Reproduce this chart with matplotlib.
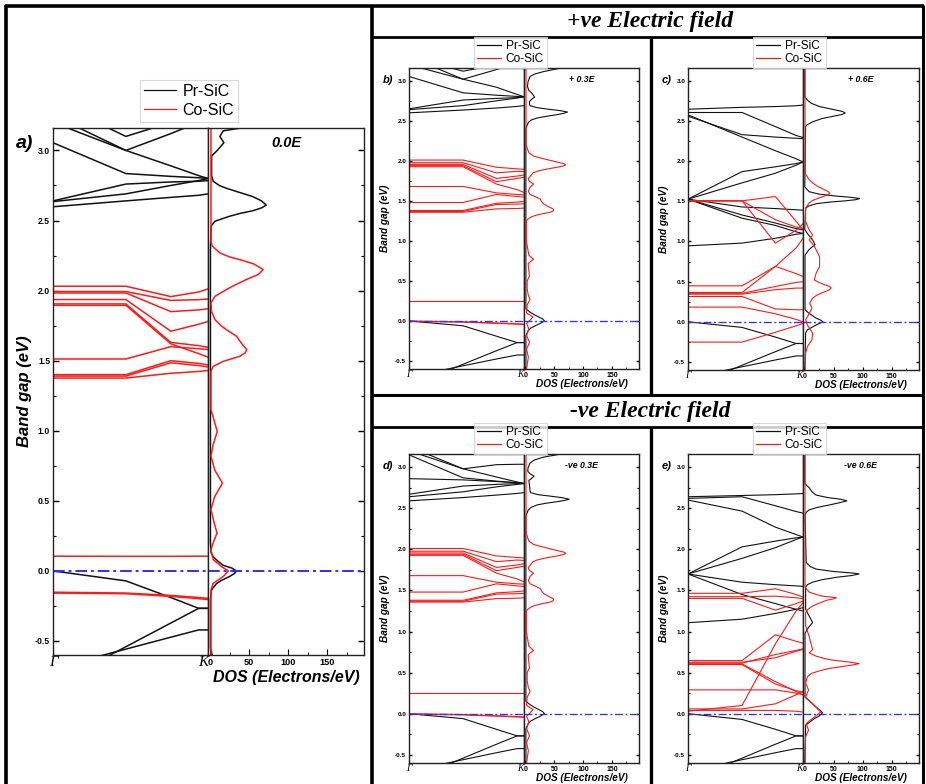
import matplotlib
matplotlib.use('Agg')
import matplotlib.pyplot as plt
from matplotlib.lines import Line2D
from matplotlib.ticker import MultipleLocator, FixedLocator

W, H = 926, 784
plt.rcParams['font.family'] = ['Liberation Sans', 'DejaVu Sans']

BLUE = '#2f2fff'
RED = '#ff1a1a'
BLACK = '#111111'

# k-path nodes (Gamma -> K) shared by every band structure
K_NODES = [0.0, 0.47, 0.76, 0.94, 1.0]
E_LIM = (-0.6, 3.16)
DOS_LIM = (-2.5, 197)

# ---------------- panel a) 0.0E ----------------
A_BLACK = [
    [3.25, 3.00, 2.89, 2.82, 2.80],
    [3.055, 2.835, 2.815, 2.805, 2.80],
    [3.35, 3.10, 3.20, 3.30, 3.35],
    [3.20, 3.00, 3.12, 3.20, 3.25],
    [2.64, 2.76, 2.775, 2.78, 2.785],
    [2.635, 2.69, 2.75, 2.785, 2.80],
    [2.598, 2.64, 2.665, 2.68, 2.69],
    [0.0, -0.071, -0.19, -0.267, -0.267],
    [-0.815, -0.541, -0.372, -0.267, -0.267],
    [-0.695, -0.558, -0.473, -0.421, -0.421],
]
A_RED = [
    [2.031, 2.031, 1.957, 1.99, 2.012],
    [1.993, 1.993, 1.93, 1.935, 1.94],
    [1.983, 1.983, 1.85, 1.862, 1.87],
    [1.936, 1.936, 1.71, 1.76, 1.78],
    [1.905, 1.905, 1.63, 1.607, 1.595],
    [1.895, 1.895, 1.62, 1.55, 1.525],
    [1.512, 1.512, 1.60, 1.585, 1.58],
    [1.40, 1.40, 1.50, 1.48, 1.47],
    [1.39, 1.39, 1.485, 1.465, 1.455],
    [1.376, 1.376, 1.41, 1.423, 1.43],
    [0.105, 0.104, 0.104, 0.105, 0.105],
    [-0.152, -0.158, -0.175, -0.19, -0.195],
    [-0.158, -0.163, -0.182, -0.198, -0.205],
]
A_DOS_BLACK_E = [3.166, 3.14, 3.10, 3.055, 2.995, 2.96, 2.82, 2.78, 2.75, 2.73, 2.70, 2.67,
                 2.64, 2.61, 2.59, 2.57, 2.55, 2.53, 2.495, 2.46, 2.30, 0.20, 0.13, 0.10,
                 0.07, 0.04, 0.02, 0.0, -0.02, -0.04, -0.07, -0.09, -0.136, -0.2, -0.55, -0.6]
A_DOS_BLACK = [47, 17, 12.7, 17.8, 8.5, 2.1, 2.1, 4.2, 12, 21, 38, 55,
               66, 72, 66, 55, 38, 25, 6.4, 1.5, 0.6, 0.6, 1.5, 4.2,
               10, 17, 28, 34, 31, 25, 14, 8.5, 2, 0.6, 0.6, 3]
A_DOS_RED_E = [3.166, 2.35, 2.317, 2.269, 2.24, 2.221, 2.19, 2.15, 2.115, 2.079, 2.04, 2.007,
               1.959, 1.912, 1.85, 1.793, 1.75, 1.721, 1.674, 1.626, 1.579, 1.555, 1.531, 1.495,
               1.459, 1.424, 1.15, 1.08, 0.995, 0.90, 0.82, 0.72, 0.626, 0.53, 0.44, 0.35,
               0.27, 0.20, 0.15, 0.08, 0.03, 0.0, -0.04, -0.09, -0.136, -0.6]
A_DOS_RED = [1.3, 1.3, 3, 12.7, 25, 38, 56, 68, 62, 46.6, 32, 21,
             6.4, 1.3, 2, 6.4, 14, 21, 34, 40, 47, 45, 38, 17,
             4, 1.3, 1.3, 5, 9.3, 4, 1.3, 6, 16, 6, 1.3, 5,
             9, 4, 1.3, 4.2, 15, 23.5, 17, 4, 1.3, 1.3]

# ---------------- panel b) +0.3E ----------------
B_BLACK = [
    [3.30, 3.02, 2.92, 2.83, 2.80],
    [3.054, 2.85, 2.82, 2.805, 2.80],
    [3.30, 3.12, 3.20, 3.30, 3.35],
    [3.20, 3.02, 3.14, 3.22, 3.26],
    [2.65, 2.76, 2.78, 2.79, 2.80],
    [2.64, 2.69, 2.75, 2.785, 2.80],
    [2.60, 2.635, 2.66, 2.68, 2.69],
    [0.0, -0.06, -0.19, -0.27, -0.27],
    [-0.815, -0.541, -0.372, -0.27, -0.27],
    [-0.70, -0.56, -0.475, -0.425, -0.425],
]
B_RED = [
    [2.01, 2.01, 1.92, 1.90, 1.895],
    [1.977, 1.977, 1.85, 1.87, 1.865],
    [1.956, 1.956, 1.78, 1.81, 1.824],
    [1.940, 1.940, 1.74, 1.78, 1.795],
    [1.927, 1.927, 1.71, 1.64, 1.605],
    [1.68, 1.68, 1.60, 1.58, 1.576],
    [1.48, 1.48, 1.58, 1.555, 1.548],
    [1.38, 1.38, 1.47, 1.485, 1.494],
    [1.368, 1.368, 1.455, 1.46, 1.465],
    [1.358, 1.358, 1.40, 1.405, 1.41],
    [0.25, 0.25, 0.25, 0.25, 0.25],
    [0.0, -0.01, -0.025, -0.035, -0.04],
    [-0.005, -0.015, -0.03, -0.04, -0.045],
]
B_DOS_BLACK_E = [3.166, 3.14, 3.116, 3.085, 3.054, 2.99, 2.93, 2.88, 2.846, 2.797, 2.77, 2.743,
                 2.71, 2.69, 2.665, 2.647, 2.628, 2.61, 2.593, 2.577, 2.555, 2.535, 2.51, 2.48,
                 2.41, 0.15, 0.11, 0.08, 0.05, 0.025, 0.0, -0.03, -0.06, -0.09, -0.12, -0.18,
                 -0.6]
B_DOS_BLACK = [67, 48, 32, 16, 8, 4.5, 3.5, 6, 11, 16, 11, 7,
               7, 8, 20, 38, 60, 73, 66, 55, 35, 20, 10, 5,
               0.8, 0.8, 8, 15, 23, 30, 33, 26, 17, 9, 5, 0.8,
               0.8]
B_DOS_RED_E = [3.166, 2.20, 2.18, 2.10, 2.06, 2.04, 2.02, 2.00, 1.98, 1.965, 1.95, 1.935,
               1.92, 1.905, 1.89, 1.87, 1.85, 1.83, 1.78, 1.75, 1.71, 1.67, 1.62, 1.58,
               1.55, 1.52, 1.49, 1.46, 1.44, 1.42, 1.40, 1.385, 1.37, 1.355, 1.34, 1.32,
               1.30, 1.27, 1.25, 1.00, 0.82, 0.77, 0.72, 0.69, 0.62, 0.56, 0.50, 0.40,
               0.32, 0.27, 0.20, 0.10, 0.05, 0.01, -0.03, -0.10, -0.18, -0.27, -0.35, -0.45,
               -0.6]
B_DOS_RED = [1, 1, 2, 6, 14, 24, 35, 46, 58, 67, 70, 65,
             55, 43, 32, 20, 13, 11, 5, 6, 14, 8, 5, 8,
             18, 26, 28, 32, 37, 42, 48, 49, 47, 41, 30, 18,
             10, 4, 1.5, 1.5, 6, 14, 5, 5, 6, 7, 3, 3,
             5, 8, 3, 2, 13, 8, 2, 6, 2, 7, 2, 5,
             2]

# ---------------- panel c) +0.6E ----------------
C_BLACK = [
    [2.647, 2.67, 2.68, 2.69, 2.70],
    [2.606, 2.606, 2.43, 2.32, 2.295],
    [2.577, 2.30, 2.13, 2.03, 1.99],
    [2.56, 2.33, 2.30, 2.285, 2.28],
    [1.527, 1.87, 1.93, 1.97, 1.99],
    [1.527, 1.73, 1.85, 1.95, 1.99],
    [1.527, 1.43, 1.41, 1.395, 1.39],
    [1.527, 1.29, 1.20, 1.12, 1.10],
    [1.527, 1.33, 1.23, 1.16, 1.145],
    [0.946, 0.98, 1.04, 1.09, 1.10],
    [0.0, -0.07, -0.19, -0.27, -0.27],
    [-0.815, -0.541, -0.372, -0.27, -0.27],
    [-0.70, -0.56, -0.475, -0.425, -0.425],
]
C_RED = [
    [1.506, 1.506, 1.56, 1.25, 1.145],
    [1.506, 1.506, 0.98, 1.14, 1.22],
    [1.506, 1.506, 1.27, 1.18, 1.16],
    [0.448, 0.448, 0.69, 0.92, 1.04],
    [0.365, 0.365, 0.69, 0.60, 0.565],
    [0.355, 0.355, 0.44, 0.49, 0.50],
    [0.344, 0.344, 0.40, 0.42, 0.42],
    [0.315, 0.315, 0.16, 0.15, 0.15],
    [0.183, 0.183, 0.10, 0.03, 0.0],
    [-0.253, -0.253, -0.13, -0.05, -0.02],
]
C_DOS_BLACK_E = [3.166, 2.80, 2.76, 2.72, 2.68, 2.65, 2.62, 2.60, 2.58, 2.56, 2.53, 2.49,
                 2.45, 2.43, 1.68, 1.62, 1.59, 1.565, 1.55, 1.535, 1.52, 1.506, 1.49, 1.47,
                 1.44, 1.415, 1.15, 1.10, 1.02, 0.96, 0.90, 0.83, 0.15, 0.11, 0.046, 0.02,
                 0.0, -0.04, -0.10, -0.14, -0.6]
C_DOS_BLACK = [0.6, 0.6, 5, 12, 26, 45, 65, 70, 64, 50, 30, 14,
               4, 2, 0.6, 8, 25, 55, 80, 95, 88, 70, 42, 20,
               7, 2, 0.6, 5, 14, 18, 8, 1, 1, 7, 20, 28,
               32, 20, 5, 2, 0.6]
C_DOS_RED_E = [3.166, 1.85, 1.77, 1.73, 1.685, 1.65, 1.62, 1.60, 1.58, 1.56, 1.54, 1.51,
               1.48, 1.415, 1.25, 1.145, 1.08, 1.02, 0.94, 0.81, 0.69, 0.606, 0.52, 0.49,
               0.46, 0.44, 0.42, 0.40, 0.38, 0.36, 0.33, 0.295, 0.23, 0.17, 0.087, 0.025,
               -0.04, -0.14, -0.22, -0.31, -0.39, -0.6]
C_DOS_RED = [1, 1, 8, 14, 23, 33, 41, 43.5, 40, 32, 24, 14,
             8, 2, 2, 8, 14, 8, 17, 26, 26, 20, 17, 25,
             35, 43, 46, 43, 37, 30, 21, 14, 9, 13, 7, 2,
             5, 14, 13, 5, 2, 1]

# ---------------- panel d) -ve 0.3E ----------------
D_BLACK = [
    [3.20, 2.98, 2.88, 2.82, 2.80],
    [3.15, 2.87, 2.83, 2.81, 2.80],
    [2.86, 2.845, 2.825, 2.81, 2.80],
    [3.25, 2.98, 3.03, 3.035, 3.035],
    [2.67, 2.77, 2.79, 2.80, 2.805],
    [2.64, 2.70, 2.76, 2.79, 2.80],
    [2.59, 2.63, 2.66, 2.68, 2.69],
    [0.0, -0.06, -0.19, -0.27, -0.27],
    [-0.815, -0.541, -0.372, -0.27, -0.27],
    [-0.70, -0.56, -0.475, -0.425, -0.425],
]
D_RED = [
    [2.01, 2.01, 1.92, 1.90, 1.895],
    [1.977, 1.977, 1.85, 1.87, 1.865],
    [1.956, 1.956, 1.78, 1.81, 1.824],
    [1.940, 1.940, 1.74, 1.78, 1.795],
    [1.927, 1.927, 1.71, 1.64, 1.605],
    [1.68, 1.68, 1.60, 1.58, 1.576],
    [1.48, 1.48, 1.58, 1.555, 1.548],
    [1.38, 1.38, 1.47, 1.485, 1.494],
    [1.368, 1.368, 1.455, 1.46, 1.465],
    [1.358, 1.358, 1.40, 1.405, 1.41],
    [0.25, 0.25, 0.25, 0.25, 0.25],
    [0.0, -0.01, -0.025, -0.035, -0.04],
    [-0.005, -0.015, -0.03, -0.04, -0.045],
]
D_DOS_BLACK_E = [3.166, 3.14, 3.12, 3.085, 3.05, 2.99, 2.95, 2.92, 2.89, 2.86, 2.84, 2.78,
                 2.71, 2.69, 2.665, 2.65, 2.63, 2.61, 2.595, 2.58, 2.56, 2.54, 2.51, 2.48,
                 2.41, 0.15, 0.11, 0.08, 0.05, 0.025, 0.0, -0.03, -0.06, -0.09, -0.12, -0.18,
                 -0.6]
D_DOS_BLACK = [67, 46, 30, 15, 8, 4.5, 4, 8, 15, 10, 6, 7,
               8, 9, 22, 40, 62, 76, 68, 55, 35, 20, 10, 5,
               0.8, 0.8, 8, 15, 23, 30, 33, 26, 17, 9, 5, 0.8,
               0.8]
D_DOS_RED_E = B_DOS_RED_E
D_DOS_RED = B_DOS_RED

# ---------------- panel e) -ve 0.6E ----------------
E_BLACK = [
    [2.64, 2.655, 2.665, 2.675, 2.68],
    [2.62, 2.64, 2.53, 2.46, 2.44],
    [2.60, 2.465, 2.27, 2.18, 2.15],
    [1.70, 2.03, 2.10, 2.14, 2.15],
    [1.70, 1.89, 2.02, 2.12, 2.15],
    [1.70, 1.60, 1.57, 1.555, 1.55],
    [1.70, 1.45, 1.34, 1.27, 1.25],
    [1.107, 1.15, 1.22, 1.27, 1.29],
    [0.0, -0.07, -0.19, -0.27, -0.27],
    [-0.815, -0.541, -0.372, -0.27, -0.27],
    [-0.70, -0.56, -0.475, -0.425, -0.425],
]
E_RED = [
    [1.465, 1.465, 1.52, 1.45, 1.42],
    [1.424, 1.424, 1.43, 1.41, 1.40],
    [1.403, 1.403, 1.26, 1.34, 1.37],
    [0.646, 0.646, 0.96, 0.88, 0.86],
    [0.626, 0.626, 0.68, 0.76, 0.78],
    [0.615, 0.615, 0.72, 0.77, 0.79],
    [0.605, 0.605, 0.39, 0.27, 0.23],
    [0.598, 0.598, 0.36, 0.28, 0.26],
    [0.29, 0.29, 0.29, 0.25, 0.23],
    [0.058, 0.058, 0.12, 0.23, 0.27],
    [0.04, 0.04, 0.04, 0.03, 0.02],
    [0.03, 0.10, 0.85, 1.25, 1.35],
]
E_DOS_BLACK_E = [3.166, 2.80, 2.75, 2.70, 2.66, 2.63, 2.61, 2.59, 2.57, 2.54, 2.51, 2.48,
                 2.45, 2.42, 1.84, 1.79, 1.76, 1.73, 1.71, 1.70, 1.68, 1.66, 1.63, 1.60,
                 1.57, 1.54, 1.27, 1.15, 1.11, 1.05, 0.98, 0.20, 0.16, 0.08, 0.04, 0.01,
                 -0.03, -0.06, -0.14, -0.6]
E_DOS_BLACK = [0.6, 0.6, 8, 13, 20, 40, 62, 73, 62, 43, 22, 8,
               3, 1, 3, 10, 20, 50, 85, 94, 80, 55, 30, 14,
               5, 2, 2, 11, 14, 7, 1, 1, 8, 20, 27, 31,
               25, 17, 2, 0.6]
E_DOS_RED_E = [3.166, 1.54, 1.48, 1.45, 1.43, 1.42, 1.41, 1.395, 1.38, 1.36, 1.335, 1.31,
               1.27, 1.23, 1.07, 0.94, 0.86, 0.78, 0.74, 0.70, 0.67, 0.65, 0.63, 0.61,
               0.595, 0.575, 0.55, 0.52, 0.49, 0.45, 0.37, 0.29, 0.20, 0.10, 0.02, -0.04,
               -0.12, -0.20, -0.28, -0.6]
E_DOS_RED = [1, 1, 8, 20, 31, 45, 55, 48, 38, 31, 22, 14,
             6, 2, 2, 8, 11, 14, 8, 20, 35, 50, 75, 94,
             85, 66, 42, 25, 12, 5, 2, 7, 2, 17, 28, 17,
             3, 7, 2, 1]


def px(x0, y0, x1, y1):
    """pixel box (left, top, right, bottom) -> figure rect"""
    return [x0 / W, 1 - y1 / H, (x1 - x0) / W, (y1 - y0) / H]


fig = plt.figure(figsize=(W / 100, H / 100), dpi=100)


def panel(band_box, dos_box, black, red, dbe, db, dre, dr, tag, field, big):
    s = 1.0 if big else 0.62
    lw = 1.1 if big else 0.8
    axb = fig.add_axes(px(*band_box))
    axd = fig.add_axes(px(*dos_box), sharey=axb)

    for band in black:
        axb.plot(K_NODES, band, color=BLACK, lw=lw)
    for band in red:
        axb.plot(K_NODES, band, color=RED, lw=lw)
    axd.plot(db, dbe, color=BLACK, lw=lw)
    axd.plot(dr, dre, color=RED, lw=lw)
    for ax in (axb, axd):
        ax.axhline(0, color=BLUE, lw=1.2 * s + 0.2, ls=(0, (6, 2, 1.5, 2)))
        for sp in ax.spines.values():
            sp.set_linewidth(1.0)
            sp.set_color('#222222')

    axb.set_xlim(0, 1)
    axb.set_ylim(*E_LIM)
    axd.set_xlim(*DOS_LIM)

    tick_fs = 6.2 if big else 4.6
    axb.yaxis.set_major_locator(MultipleLocator(0.5))
    axb.yaxis.set_minor_locator(MultipleLocator(0.25))
    axb.yaxis.set_major_formatter(lambda v, p: f'{v:.1f}')
    axb.tick_params(axis='y', which='major', direction='in', length=4 * s, width=1,
                    labelsize=tick_fs, pad=2)
    axb.tick_params(axis='y', which='minor', direction='in', length=2 * s, width=0.8)
    axb.set_xticks([0, 1])
    axb.set_xticklabels(['Γ', 'K'], family='Liberation Serif',
                        fontsize=11 if big else 7, style='italic')
    axb.get_xticklabels()[1].set_ha('right')
    axb.tick_params(axis='x', direction='in', length=3 * s, pad=1)
    for t in axb.get_yticklabels():
        t.set_fontweight('bold')

    axd.tick_params(axis='y', which='both', left=False, labelleft=False,
                    right=True, direction='in')
    axd.tick_params(axis='y', which='major', length=4 * s, width=1)
    axd.tick_params(axis='y', which='minor', length=2 * s, width=0.8)
    axd.xaxis.set_major_locator(FixedLocator([0, 50, 100, 150]))
    axd.xaxis.set_minor_locator(MultipleLocator(25))
    axd.tick_params(axis='x', which='major', direction='in', length=4 * s,
                    labelsize=tick_fs + 0.4, pad=2)
    axd.tick_params(axis='x', which='minor', direction='in', length=2 * s)
    for t in axd.get_xticklabels():
        t.set_fontweight('bold')

    axb.set_ylabel('Band gap (eV)', fontsize=12 if big else 7.2, fontweight='bold',
                   style='italic', labelpad=(2 if big else 4))
    axd.set_xlabel('DOS (Electrons/eV)', fontsize=11.5 if big else 7.2,
                   fontweight='bold', style='italic', labelpad=(2 if big else 0.5))

    # panel tag and field strength
    bx0, by0, bx1, by1 = band_box
    dx0, dy0, dx1, dy1 = dos_box
    fig.text((bx0 - (37 if big else 26)) / W, 1 - (by0 + (15 if big else 12)) / H, tag,
             fontsize=14 if big else 8, fontweight='bold', style='italic',
             ha='left', va='center')
    fig.text((dx0 + dx1) / 2 / W, 1 - (by0 + (15 if big else 12)) / H, field,
             fontsize=10.5 if big else 6.3, fontweight='bold', style='italic',
             ha='center', va='center')

    # legend above the band/DOS junction
    handles = [Line2D([], [], color=BLACK, lw=0.9), Line2D([], [], color=RED, lw=0.9)]
    lx = bx1 - (68 if big else 50)
    ly = by0 - (48 if big else 31)
    leg = fig.legend(handles, ['Pr-SiC', 'Co-SiC'], loc='upper left',
                     bbox_to_anchor=(lx / W, 1 - ly / H),
                     fontsize=11.5 if big else 8.6, frameon=True, fancybox=False,
                     edgecolor='#d0d0d0', handlelength=2.0, handletextpad=0.4,
                     labelspacing=(0.25 if big else 0.12), borderpad=0.25,
                     borderaxespad=0)
    leg.get_frame().set_linewidth(0.8)


panel((53, 128, 208, 655), (208, 128, 364, 655), A_BLACK, A_RED,
      A_DOS_BLACK_E, A_DOS_BLACK, A_DOS_RED_E, A_DOS_RED, 'a)', '0.0E', True)
panel((409, 68, 524, 369), (524, 68, 639, 369), B_BLACK, B_RED,
      B_DOS_BLACK_E, B_DOS_BLACK, B_DOS_RED_E, B_DOS_RED, 'b)', '+ 0.3E', False)
panel((688, 68, 803, 370), (803, 68, 919, 370), C_BLACK, C_RED,
      C_DOS_BLACK_E, C_DOS_BLACK, C_DOS_RED_E, C_DOS_RED, 'c)', '+ 0.6E', False)
panel((409, 454, 524, 763), (524, 454, 639, 763), D_BLACK, D_RED,
      D_DOS_BLACK_E, D_DOS_BLACK, D_DOS_RED_E, D_DOS_RED, 'd)', '-ve 0.3E', False)
panel((688, 454, 803, 763), (803, 454, 919, 763), E_BLACK, E_RED,
      E_DOS_BLACK_E, E_DOS_BLACK, E_DOS_RED_E, E_DOS_RED, 'e)', '-ve 0.6E', False)


# section headers
for txt, y in (('+ve Electric field', 22), ('-ve Electric field', 412)):
    fig.text(650 / W, 1 - y / H, txt, family='Liberation Serif', fontsize=17,
             fontweight='bold', style='italic', ha='center', va='center')


# frame lines (pixel coordinates)
def fline(x0, y0, x1, y1, lw):
    fig.add_artist(Line2D([x0 / W, x1 / W], [1 - y0 / H, 1 - y1 / H], color='black',
                          lw=lw, transform=fig.transFigure, solid_capstyle='butt'))


fline(5, 6, 924, 6, 2.6)
fline(6, 5, 6, 784, 2.6)
fline(923, 5, 923, 784, 2.2)
fline(372, 5, 372, 784, 2.6)
fline(372, 37, 923, 37, 2.0)
fline(372, 395, 923, 395, 2.2)
fline(372, 427, 923, 427, 2.0)
fline(651, 37, 651, 395, 2.4)
fline(651, 427, 651, 784, 2.4)

fig.savefig('out.png', dpi=100)
